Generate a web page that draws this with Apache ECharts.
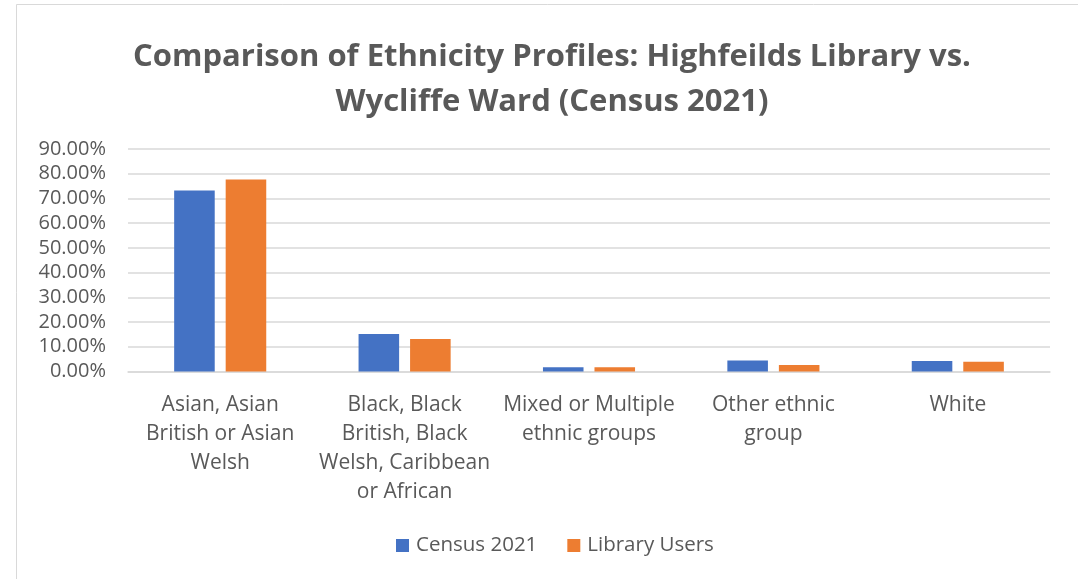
<!DOCTYPE html>
<html>
<head>
<meta charset="utf-8">
<script src="https://cdn.jsdelivr.net/npm/echarts@6/dist/echarts.min.js"></script>
<style>
  html, body { margin: 0; padding: 0; background: #ffffff; }
  #chart { width: 1078px; height: 579px; }
</style>
</head>
<body>
<div id="chart"></div>
<script>
// Ethnic groups (labels wrapped as shown on the axis)
const categories = [
  'Asian, Asian\nBritish or Asian\nWelsh',
  'Black, Black\nBritish, Black\nWelsh, Caribbean\nor African',
  'Mixed or Multiple\nethnic groups',
  'Other ethnic\ngroup',
  'White'
];
// Share of population, percent
const census2021 = [73.2, 15.2, 1.7, 4.5, 4.2];
const libraryUsers = [77.7, 13.1, 1.7, 2.6, 3.9];
const seriesNames = ['Census 2021', 'Library Users'];
const titleText = 'Comparison of Ethnicity Profiles: Highfeilds Library vs.\nWycliffe Ward (Census 2021)';

const FONT = '"Open Sans", Lato, sans-serif';
const TEXT = '#595959';

const chart = echarts.init(document.getElementById('chart'), null, { renderer: 'canvas' });
chart.setOption({
  animation: false,
  backgroundColor: '#ffffff',
  graphic: [{
    type: 'rect',
    shape: { x: 16.5, y: 4.5, width: 1100, height: 600 },
    style: { fill: 'none', stroke: '#d9d9d9', lineWidth: 1 },
    silent: true
  }],
  title: {
    text: titleText,
    left: 547,
    textAlign: 'center',
    top: 30,
    textStyle: {
      fontFamily: FONT,
      fontWeight: 'bold',
      fontSize: 31,
      lineHeight: 45,
      color: TEXT
    }
  },
  legend: {
    data: seriesNames,
    bottom: 18,
    left: 391,
    itemWidth: 13,
    itemHeight: 13,
    itemGap: 30,
    icon: 'rect',
    textStyle: { fontFamily: FONT, fontSize: 20.5, color: TEXT, padding: [0, 0, 0, 2] }
  },
  grid: { left: 128, right: 28, top: 149, bottom: 207.5 },
  xAxis: {
    type: 'category',
    data: categories,
    axisLine: { lineStyle: { color: '#d9d9d9', width: 1.5 } },
    axisTick: { show: false },
    axisLabel: {
      interval: 0,
      margin: 19,
      fontFamily: FONT,
      fontSize: 21,
      lineHeight: 29,
      color: TEXT,
      align: 'center'
    }
  },
  yAxis: {
    type: 'value',
    min: 0,
    max: 90,
    interval: 10,
    axisLine: { show: false },
    axisTick: { show: false },
    splitLine: { lineStyle: { color: '#d9d9d9', width: 1.5 } },
    axisLabel: {
      fontFamily: FONT,
      fontSize: 20,
      color: TEXT,
      margin: 22,
      formatter: v => v.toFixed(2) + '%'
    }
  },
  series: [
    {
      name: seriesNames[0],
      type: 'bar',
      data: census2021,
      barWidth: '22%',
      barGap: '27%',
      itemStyle: { color: '#4472c4' }
    },
    {
      name: seriesNames[1],
      type: 'bar',
      data: libraryUsers,
      barWidth: '22%',
      barGap: '27%',
      itemStyle: { color: '#ed7d31' }
    }
  ]
});
</script>
</body>
</html>
